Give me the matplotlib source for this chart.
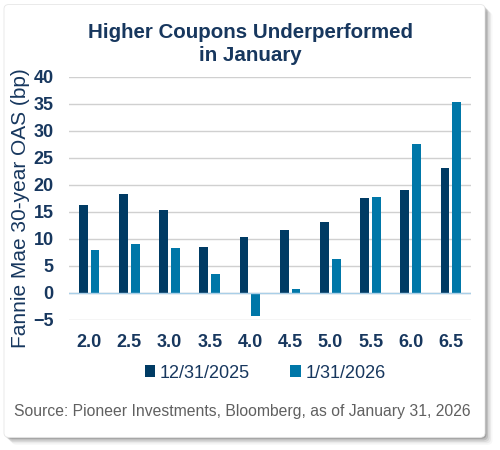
import numpy as np
import matplotlib
matplotlib.use("Agg")
import matplotlib.pyplot as plt
from matplotlib.patches import FancyBboxPatch

coupons = ["2.0", "2.5", "3.0", "3.5", "4.0", "4.5", "5.0", "5.5", "6.0", "6.5"]
oas_dec = [16.2, 18.3, 15.4, 8.5, 10.4, 11.6, 13.1, 17.5, 19.1, 23.1]
oas_jan = [8.0, 9.1, 8.3, 3.6, -4.3, 0.7, 6.3, 17.8, 27.6, 35.4]
series_names = ["12/31/2025", "1/31/2026"]

navy = "#003B64"
teal = "#0077A8"
text_col = "#17375E"

plt.rcParams["font.family"] = ["Liberation Sans", "DejaVu Sans"]

fig = plt.figure(figsize=(5, 4.5), dpi=100)

# card with soft shadow (right / bottom)
for i, a in enumerate([0.14, 0.11, 0.08, 0.05, 0.03]):
    off = 0.003 + i * 0.003
    fig.patches.append(FancyBboxPatch((0.008 + off, 0.028 - off * 1.1), 0.962, 0.962,
                                      boxstyle="round,pad=0,rounding_size=0.01",
                                      transform=fig.transFigure, fc="black", ec="none",
                                      alpha=a, zorder=0))
fig.patches.append(FancyBboxPatch((0.008, 0.028), 0.962, 0.962,
                                  boxstyle="round,pad=0,rounding_size=0.01",
                                  transform=fig.transFigure, fc="white", ec="#E6E6E6",
                                  lw=0.6, zorder=1))

ax = fig.add_axes([0.138, 0.289, 0.804, 0.54])
ax.set_zorder(2)
ax.patch.set_alpha(0)

x = np.arange(len(coupons))
w = 0.22
ax.bar(x - 0.145, oas_dec, w, color=navy, label=series_names[0], zorder=3)
ax.bar(x + 0.145, oas_jan, w, color=teal, label=series_names[1], zorder=3)

ax.set_xlim(-0.5, len(coupons) - 0.5)
ax.set_ylim(-5, 40)
ax.set_yticks(np.arange(-5, 41, 5))
ax.set_xticks(x)
ax.set_xticklabels(coupons)
ax.grid(axis="y", color="#D0D0D0", lw=1, zorder=0)
ax.axhline(0, color="#A9CFE8", lw=1, zorder=4)
for s in ax.spines.values():
    s.set_visible(False)
ax.tick_params(length=0, labelsize=13, labelcolor=text_col)
for lab in ax.get_xticklabels() + ax.get_yticklabels():
    lab.set_fontweight("bold")
ax.tick_params(axis="x", pad=10)
ax.tick_params(axis="y", pad=11)

fig.text(0.041, 1 - 208 / 450, "Fannie Mae 30-year OAS (bp)", rotation=90,
         ha="center", va="center", fontsize=15, color=text_col)

fig.text(0.5, 1 - 44 / 450, "Higher Coupons Underperformed\nin January", ha="center", va="center",
         fontsize=14.8, fontweight="bold", color=text_col, linespacing=1.25)

fig.legend(loc="center", bbox_to_anchor=(0.53, 0.171), ncol=2, frameon=False,
           fontsize=13, handlelength=0.6, handleheight=0.6, handletextpad=0.25,
           columnspacing=2.2, labelcolor=text_col)

fig.text(0.485, 0.085, "Source: Pioneer Investments, Bloomberg, as of January 31, 2026",
         ha="center", va="center", fontsize=11.3, color="#606060")

fig.savefig("out.png", dpi=100)
